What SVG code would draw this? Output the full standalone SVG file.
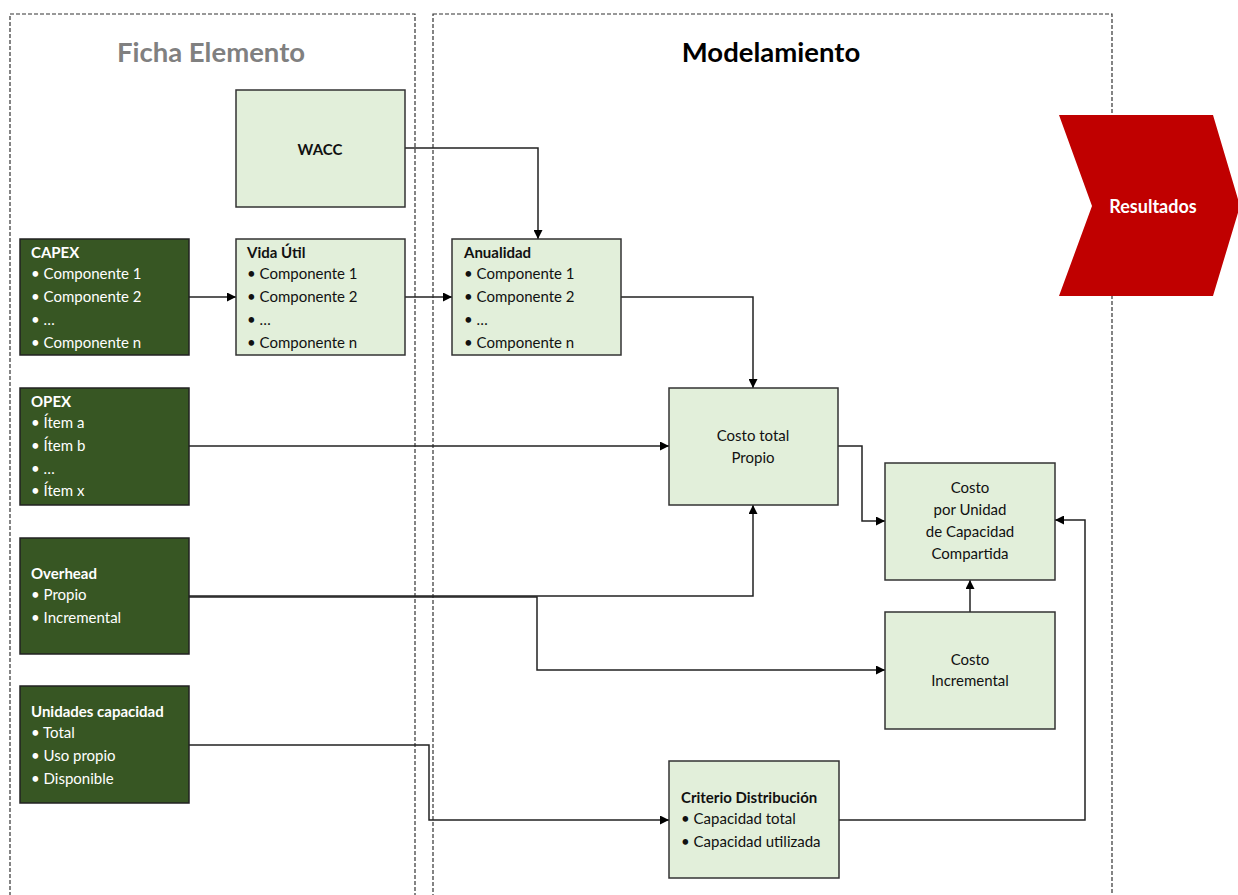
<svg xmlns="http://www.w3.org/2000/svg" width="1238" height="895" viewBox="0 0 1238 895">
<defs>
<marker id="arr" viewBox="0 0 10 10" refX="10" refY="5" markerWidth="10" markerHeight="9" markerUnits="userSpaceOnUse" orient="auto">
<path d="M0,0 L10,5 L0,10 z" fill="#000"/>
</marker>
<style>
.panel{fill:none;stroke:#333;stroke-width:1.2;stroke-dasharray:4 2}
.light{fill:#E2EFDA;stroke:#333;stroke-width:1.5}
.dark{fill:#375623;stroke:#222;stroke-width:1.5}
text{font-family:Lato,"Open Sans","Liberation Sans",sans-serif;font-size:15px}
.w{fill:#fff}
.k{fill:#111}
.b{font-weight:bold}
.c{text-anchor:middle}
.hdr{font-size:27.5px;font-weight:bold;text-anchor:middle}
.conn{fill:none;stroke:#222;stroke-width:1.5}
</style>
</defs>
<rect class="panel" x="10" y="14" width="405" height="900"/>
<rect class="panel" x="433" y="14" width="679" height="900"/>
<text class="hdr" x="211" y="62" fill="#808080">Ficha Elemento</text>
<text class="hdr" x="771" y="62" fill="#000">Modelamiento</text>

<g id="connectors">
<path class="conn" d="M405,148 H538 V239" marker-end="url(#arr)"/>
<path class="conn" d="M189,297 H236" marker-end="url(#arr)"/>
<path class="conn" d="M405,297 H452" marker-end="url(#arr)"/>
<path class="conn" d="M621,297 H753 V388" marker-end="url(#arr)"/>
<path class="conn" d="M189,446 H669" marker-end="url(#arr)"/>
<path class="conn" d="M189,596 H753 V505" marker-end="url(#arr)"/>
<path class="conn" d="M189,597 H537 V670 H885" marker-end="url(#arr)"/>
<path class="conn" d="M838,446 H862 V521 H885" marker-end="url(#arr)"/>
<path class="conn" d="M970,612 V580" marker-end="url(#arr)"/>
<path class="conn" d="M189,745 H429 V820 H669" marker-end="url(#arr)"/>
<path class="conn" d="M839,820 H1085 V520 H1055" marker-end="url(#arr)"/>
</g>

<g id="wacc">
<rect class="light" x="236" y="90" width="169" height="117"/>
<text class="k b c" x="320" y="155">WACC</text>
</g>
<g id="capex">
<rect class="dark" x="20" y="239" width="169" height="116"/>
<text class="w b" x="31" y="258">CAPEX</text>
<text class="w" x="31" y="279">• Componente 1</text>
<text class="w" x="31" y="302">• Componente 2</text>
<text class="w" x="31" y="325">• …</text>
<text class="w" x="31" y="348">• Componente n</text>
</g>
<g id="vidautil">
<rect class="light" x="236" y="239" width="169" height="116"/>
<text class="k b" x="247" y="258">Vida Útil</text>
<text class="k" x="247" y="279">• Componente 1</text>
<text class="k" x="247" y="302">• Componente 2</text>
<text class="k" x="247" y="325">• …</text>
<text class="k" x="247" y="348">• Componente n</text>
</g>
<g id="anualidad">
<rect class="light" x="452" y="239" width="169" height="116"/>
<text class="k b" x="464" y="258">Anualidad</text>
<text class="k" x="464" y="279">• Componente 1</text>
<text class="k" x="464" y="302">• Componente 2</text>
<text class="k" x="464" y="325">• …</text>
<text class="k" x="464" y="348">• Componente n</text>
</g>
<g id="opex">
<rect class="dark" x="20" y="388" width="169" height="117"/>
<text class="w b" x="31" y="407">OPEX</text>
<text class="w" x="31" y="428">• Ítem a</text>
<text class="w" x="31" y="451">• Ítem b</text>
<text class="w" x="31" y="474">• …</text>
<text class="w" x="31" y="496">• Ítem x</text>
</g>
<g id="overhead">
<rect class="dark" x="20" y="538" width="169" height="116"/>
<text class="w b" x="31" y="579">Overhead</text>
<text class="w" x="31" y="600">• Propio</text>
<text class="w" x="31" y="623">• Incremental</text>
</g>
<g id="unidades">
<rect class="dark" x="20" y="686" width="169" height="117"/>
<text class="w b" x="31" y="717">Unidades capacidad</text>
<text class="w" x="31" y="738">• Total</text>
<text class="w" x="31" y="761">• Uso propio</text>
<text class="w" x="31" y="784">• Disponible</text>
</g>
<g id="costototal">
<rect class="light" x="669" y="388" width="169" height="117"/>
<text class="k c" x="753" y="441">Costo total</text>
<text class="k c" x="753" y="463">Propio</text>
</g>
<g id="costounidad">
<rect class="light" x="885" y="463" width="170" height="117"/>
<text class="k c" x="970" y="493">Costo</text>
<text class="k c" x="970" y="515">por Unidad</text>
<text class="k c" x="970" y="537">de Capacidad</text>
<text class="k c" x="970" y="559">Compartida</text>
</g>
<g id="costoincremental">
<rect class="light" x="885" y="612" width="170" height="117"/>
<text class="k c" x="970" y="665">Costo</text>
<text class="k c" x="970" y="686">Incremental</text>
</g>
<g id="criterio">
<rect class="light" x="669" y="761" width="170" height="117"/>
<text class="k b" x="681" y="803">Criterio Distribución</text>
<text class="k" x="681" y="824">• Capacidad total</text>
<text class="k" x="681" y="847">• Capacidad utilizada</text>
</g>
<g id="resultados">
<polygon points="1059,115 1213,115 1240,206 1213,296 1059,296 1092,206" fill="#C00000"/>
<text class="w b c" x="1153" y="213" style="font-size:18px">Resultados</text>
</g>
</svg>
